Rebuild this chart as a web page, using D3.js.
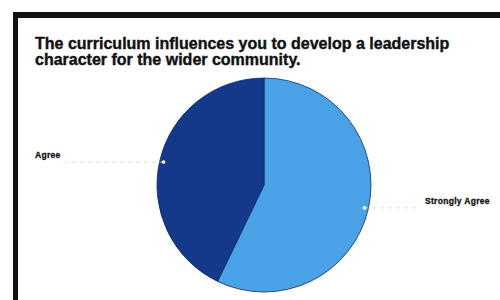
<!DOCTYPE html>
<html>
<head>
<meta charset="utf-8">
<script src="https://cdn.jsdelivr.net/npm/d3@7"></script>
<style>
  body { margin: 0; background: #fff; }
  svg { display: block; }
</style>
</head>
<body>
<div id="chart"></div>
<script>
const categories = ["Strongly Agree", "Agree"];
const values = [16, 12];
const colors = ["#4aa2e6", "#14398a"];
const titleLines = [
    "The curriculum influences you to develop a leadership",
    "character for the wider community."
];

const W = 500, H = 300;
const cx = 264, cy = 185, radius = 107;

const svg = d3.select("#chart")
    .append("svg")
    .attr("width", W)
    .attr("height", H);

// frame (only top and left edges visible in the shot)
svg.append("rect")
    .attr("x", 13).attr("y", 12)
    .attr("width", W).attr("height", 6)
    .attr("fill", "#111");
svg.append("rect")
    .attr("x", 13).attr("y", 12)
    .attr("width", 5).attr("height", H)
    .attr("fill", "#111");

svg.append("text")
    .attr("font-family", "Liberation Sans, Arial, sans-serif")
    .attr("font-weight", "bold")
    .attr("font-size", 16)
    .attr("fill", "#111")
    .attr("stroke", "#111")
    .attr("stroke-width", 0.4)
    .selectAll("tspan")
    .data(titleLines)
    .join("tspan")
    .attr("x", 35)
    .attr("y", (d, i) => 49 + i * 16)
    .text(d => d);

const pie = d3.pie().sort(null).startAngle(0).endAngle(2 * Math.PI);
const arcs = pie(values);
const arc = d3.arc().innerRadius(0).outerRadius(radius);

const g = svg.append("g")
    .attr("transform", "translate(" + cx + "," + cy + ")");

g.selectAll("path")
    .data(arcs)
    .join("path")
    .attr("d", arc)
    .attr("fill", (d, i) => colors[i])
    .attr("stroke", "#0b2a66")
    .attr("stroke-width", 0.8);

// point on edge at middle of each slice
function edgePoint(d) {
    const a = (d.startAngle + d.endAngle) / 2;
    return [Math.sin(a) * (radius - 4), -Math.cos(a) * (radius - 4)];
}

const labelX = [425, 35];

arcs.forEach((d, i) => {
    const [px, py] = edgePoint(d);
    const right = px > 0;
    const lx = labelX[i] - cx;
    g.append("line")
        .attr("x1", px).attr("y1", py)
        .attr("x2", right ? lx - 5 : lx + 30).attr("y2", py)
        .attr("stroke", "#e8c8d4")
        .attr("stroke-width", 0.8)
        .attr("stroke-dasharray", "4,4");
    g.append("circle")
        .attr("cx", px).attr("cy", py)
        .attr("r", 1.8)
        .attr("fill", "#fff");
    g.append("text")
        .attr("x", lx)
        .attr("y", py - 4)
        .attr("font-family", "Liberation Sans, Arial, sans-serif")
        .attr("font-weight", "bold")
        .attr("font-size", 8.5)
        .attr("letter-spacing", 0.3)
        .attr("fill", "#111")
        .attr("stroke", "#111")
        .attr("stroke-width", 0.3)
        .text(categories[i]);
});
</script>
</body>
</html>
